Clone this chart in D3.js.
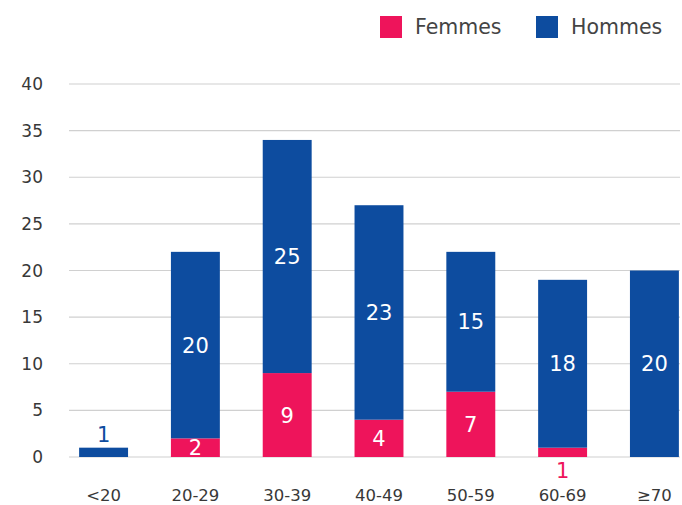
<!DOCTYPE html>
<html lang="fr">
<head>
  <meta charset="UTF-8">
  <title>Femmes / Hommes par âge</title>
  <script src="https://d3js.org/d3.v7.min.js"></script>
  <style>
    body { margin: 0; background: #fff; }
    svg { display: block; font-family: "DejaVu Sans", sans-serif; }
  </style>
</head>
<body>
  <svg id="chart" width="682" height="505"></svg>
  <script>
    // data
    const categories = ["<20", "20-29", "30-39", "40-49", "50-59", "60-69", "≥70"];
    const femmes = [0, 2, 9, 4, 7, 1, 0];
    const hommes = [1, 20, 25, 23, 15, 18, 20];
    const yTicks = [0, 5, 10, 15, 20, 25, 30, 35, 40];
    const seriesNames = ["Femmes", "Hommes"];
    const colors = ["#EE145B", "#0D4C9F"];

    const width = 682, height = 505;
    const svg = d3.select("#chart");

    const x = d3.scaleBand()
      .domain(categories)
      .range([58, 700])
      .paddingInner(0.467)
      .paddingOuter(0.23);

    const y = d3.scaleLinear()
      .domain([0, 40])
      .range([457, 84]);

    // gridlines
    svg.append("g")
      .selectAll("line")
      .data(yTicks)
      .enter().append("line")
      .attr("x1", 69).attr("x2", 680)
      .attr("y1", d => y(d)).attr("y2", d => y(d))
      .attr("stroke", "#d0d0d0")
      .attr("stroke-width", 1.2);

    // y tick labels
    svg.append("g")
      .selectAll("text")
      .data(yTicks)
      .enter().append("text")
      .attr("x", 43)
      .attr("y", d => y(d))
      .attr("dy", "0.36em")
      .attr("text-anchor", "end")
      .attr("fill", "#383838")
      .style("font-size", "17px")
      .text(d => d);

    // x labels
    svg.append("g")
      .selectAll("text")
      .data(categories)
      .enter().append("text")
      .attr("x", d => x(d) + x.bandwidth() / 2)
      .attr("y", 495)
      .attr("dy", "0.36em")
      .attr("text-anchor", "middle")
      .attr("fill", "#383838")
      .style("font-size", "16.5px")
      .text(d => d);

    // stacked bars
    const rows = categories.map((c, i) => ({ cat: c, Femmes: femmes[i], Hommes: hommes[i] }));
    const stacked = d3.stack().keys(seriesNames)(rows);

    svg.append("g")
      .selectAll("g")
      .data(stacked)
      .enter().append("g")
      .attr("fill", (_, i) => colors[i])
      .selectAll("rect")
      .data(d => d)
      .enter().append("rect")
      .attr("x", d => x(d.data.cat))
      .attr("y", d => y(d[1]))
      .attr("width", x.bandwidth())
      .attr("height", d => y(d[0]) - y(d[1]));

    // value labels
    const labels = [];
    stacked.forEach((s, si) => {
      s.forEach(d => {
        const v = d[1] - d[0];
        if (v <= 0) return;
        const cx = x(d.data.cat) + x.bandwidth() / 2;
        let ly = y((d[0] + d[1]) / 2), fill = "#fff";
        const segH = y(d[0]) - y(d[1]);
        if (segH < 18) {
          // too small to hold the label
          if (si === 0) { ly = y(d[0]) + 13; fill = colors[0]; }
          else { ly = y(d[1]) - 13; fill = colors[1]; }
        }
        labels.push({ cx, ly, fill, v });
      });
    });

    svg.append("g")
      .selectAll("text")
      .data(labels)
      .enter().append("text")
      .attr("x", d => d.cx)
      .attr("y", d => d.ly)
      .attr("dy", "0.36em")
      .attr("text-anchor", "middle")
      .attr("fill", d => d.fill)
      .style("font-size", "21px")
      .text(d => d.v);

    // legend
    const legend = svg.append("g");
    const legendX = [380, 536];
    seriesNames.forEach((name, i) => {
      legend.append("rect")
        .attr("x", legendX[i]).attr("y", 16)
        .attr("width", 22).attr("height", 22)
        .attr("fill", colors[i]);
      legend.append("text")
        .attr("x", legendX[i] + 35).attr("y", 27)
        .attr("dy", "0.36em")
        .attr("fill", "#444")
        .style("font-size", "20.5px")
        .text(name);
    });
  </script>
</body>
</html>
